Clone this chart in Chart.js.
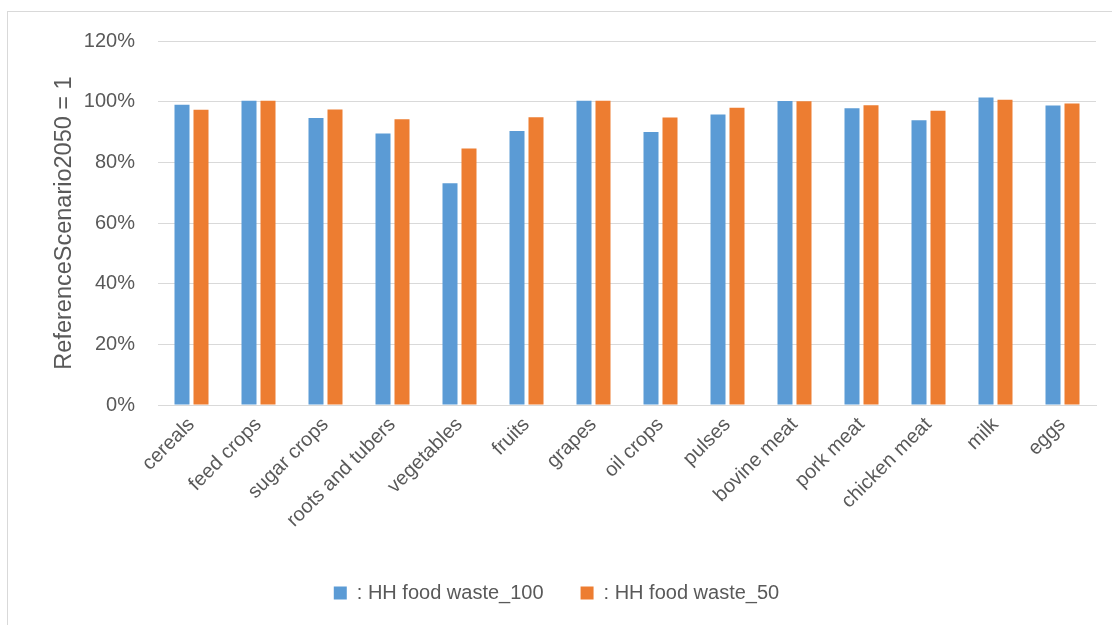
<!DOCTYPE html>
<html>
<head>
<meta charset="utf-8">
<script src="https://cdn.jsdelivr.net/npm/chart.js@4"></script>
<style>
  html, body { margin: 0; padding: 0; background: #fff; }
  #frame { position: absolute; left: 7px; top: 11px; width: 1110px; height: 620px; border: 1px solid #d9d9d9; box-sizing: border-box; }
  #wrap { position: absolute; left: 0; top: 0; width: 1112px; height: 625px; }
</style>
</head>
<body>
<div id="frame"></div>
<div id="wrap"><canvas id="c"></canvas></div>
<script>
// categories and series (share of reference scenario 2050, %)
const categories = ['cereals', 'feed crops', 'sugar crops', 'roots and tubers', 'vegetables', 'fruits', 'grapes',
  'oil crops', 'pulses', 'bovine meat', 'pork meat', 'chicken meat', 'milk', 'eggs'];
const waste100 = [99.0, 100.3, 94.6, 89.5, 73.1, 90.3, 100.3, 90.0, 95.8, 100.2, 97.8, 93.9, 101.4, 98.7];
const waste50  = [97.3, 100.3, 97.4, 94.2, 84.6, 94.9, 100.3, 94.8, 98.0, 100.1, 98.8, 97.0, 100.6, 99.4];
const yTicks = [0, 20, 40, 60, 80, 100, 120];

const FONT = 'Liberation Sans';
const TXT = '#595959';
const GRID = '#d9d9d9';

new Chart(document.getElementById('c').getContext('2d'), {
  type: 'bar',
  data: {
    labels: categories,
    datasets: [
      { label: ': HH food waste_100', data: waste100, backgroundColor: '#5b9bd5', categoryPercentage: 0.567, barPercentage: 0.79 },
      { label: ': HH food waste_50', data: waste50, backgroundColor: '#ed7d31', categoryPercentage: 0.567, barPercentage: 0.79 }
    ]
  },
  options: {
    responsive: true,
    maintainAspectRatio: false,
    animation: false,
    layout: { padding: { top: 41, right: 16, bottom: 12, left: 17 } },
    plugins: {
      tooltip: { enabled: false },
      legend: {
        position: 'bottom',
        labels: { font: { family: FONT, size: 20 }, color: TXT, boxWidth: 13, boxHeight: 13, padding: 37 }
      }
    },
    scales: {
      x: {
        grid: { display: false, drawTicks: false },
        border: { color: GRID },
        ticks: { font: { family: FONT, size: 20 }, color: TXT, minRotation: 45, maxRotation: 45, padding: 8 },
        afterFit(s) { s.height = 141; }
      },
      y: {
        min: 0, max: 120,
        afterBuildTicks(s) { s.ticks = yTicks.map(v => ({ value: v })); },
        grid: { color: GRID, drawTicks: false },
        border: { display: false },
        ticks: { font: { family: FONT, size: 20 }, color: TXT, padding: 23, callback: v => v + '%' },
        title: { display: true, text: 'ReferenceScenario2050 = 1', font: { family: FONT, size: 23.5 }, color: TXT, padding: { top: 33, bottom: 0 } },
        afterFit(s) { s.width = 141; }
      }
    }
  }
});
</script>
</body>
</html>
